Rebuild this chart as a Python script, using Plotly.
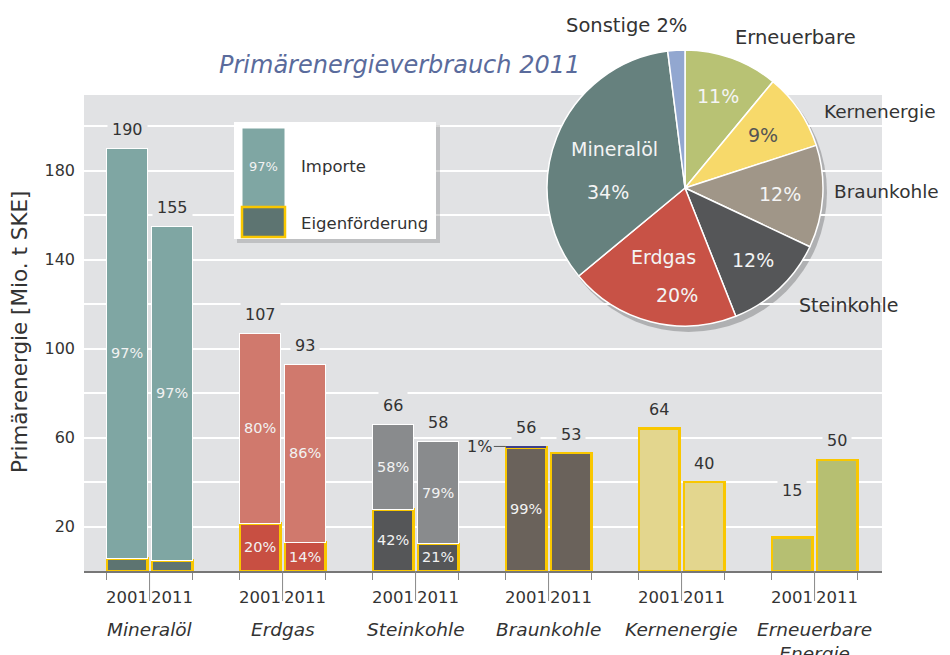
import math
import plotly.graph_objects as go

# ---------------- data ----------------
categories = ["Mineralöl", "Erdgas", "Steinkohle", "Braunkohle", "Kernenergie", "Erneuerbare<br>Energie"]
years = ["2001", "2011"]
totals_2001 = [190, 107, 66, 56, 64, 15]
totals_2011 = [155, 93, 58, 53, 40, 50]
import_pct_2001 = [97, 80, 58, 1, 0, 0]
import_pct_2011 = [97, 86, 79, 0, 0, 0]
import_labels_2001 = ["97%", "80%", "58%", "", "", ""]
import_labels_2011 = ["97%", "86%", "79%", "", "", ""]
eigen_labels_2001 = ["", "20%", "42%", "99%", "", ""]
eigen_labels_2011 = ["", "14%", "21%", "", "", ""]

pie_labels = ["Erneuerbare", "Kernenergie", "Braunkohle", "Steinkohle", "Erdgas", "Mineralöl", "Sonstige"]
pie_values = [11, 9, 12, 12, 20, 34, 2]

# ---------------- styles ----------------
FONT = "DejaVu Sans, Verdana, sans-serif"
BG = "#e1e2e4"
YELLOW = "#f9c700"
import_colors = ["#7fa6a3", "#d0796d", "#898b8d", "#3b3f8c", "#e3d68e", "#b6bf72"]
eigen_colors = ["#5d7471", "#c84f42", "#555658", "#6a625b", "#e3d68e", "#b6bf72"]
pie_colors = ["#b8c274", "#f7d96a", "#a09688", "#555658", "#c85246", "#66817e", "#92a7d0"]

offsets = [-0.176, 0.162]
bar_w = 0.305

# page body has an 8px margin -> figure shifted by 8px
W, H = 942, 647
ML, MT = 76, 12
PW = 798
PH = 551
MR = W - ML - PW
MB = H - MT - PH
AXIS_REF = 571  # axis line y in reference pixels
LEFT_REF = 84   # plot left in reference pixels


def px_x(px):
    return (px - LEFT_REF) / PW


def px_y(py):
    return (AXIS_REF - py) / PH


# ---------------- build bars ----------------
xs, eig, imp, eig_txt, imp_txt = [], [], [], [], []
imp_col, eig_col, imp_lw = [], [], []
totals = [totals_2001, totals_2011]
ipct = [import_pct_2001, import_pct_2011]
ilab = [import_labels_2001, import_labels_2011]
elab = [eigen_labels_2001, eigen_labels_2011]
for i in range(len(categories)):
    for j in range(2):
        t = totals[j][i]
        p = ipct[j][i]
        xs.append(i + offsets[j])
        iv = t * p / 100.0
        eig.append(t - iv)
        imp.append(iv if iv > 0 else None)
        eig_txt.append(elab[j][i])
        imp_txt.append(ilab[j][i])
        imp_col.append(import_colors[i])
        eig_col.append(eigen_colors[i])
        imp_lw.append(1 if p > 2 else 0)

fig = go.Figure()
fig.add_trace(go.Bar(
    x=xs, y=eig, width=bar_w, name="Eigenförderung",
    marker=dict(color=eig_col, line=dict(color=YELLOW, width=2.5)),
    text=eig_txt, textposition="inside", insidetextanchor="middle",
    constraintext="none", textangle=0,
    textfont=dict(family=FONT, size=14.5, color="#f2f2f2"),
    showlegend=False, hoverinfo="skip",
))
fig.add_trace(go.Bar(
    x=xs, y=imp, width=bar_w, name="Importe",
    marker=dict(color=imp_col, line=dict(color="white", width=imp_lw)),
    text=imp_txt, textposition="inside", insidetextanchor="middle",
    constraintext="none", textangle=0,
    textfont=dict(family=FONT, size=14.5, color="#f2f2f2"),
    showlegend=False, hoverinfo="skip",
))

# ---------------- pie ----------------
pie_cx, pie_cy, pie_r = 685, 188, 138
fig.add_trace(go.Pie(
    labels=pie_labels, values=pie_values, sort=False, direction="clockwise",
    rotation=0, textinfo="none", hoverinfo="skip", showlegend=False,
    marker=dict(colors=pie_colors, line=dict(color="white", width=1.5)),
    domain=dict(x=[px_x(pie_cx - pie_r), px_x(pie_cx + pie_r)],
                y=[px_y(pie_cy + pie_r), px_y(pie_cy - pie_r)]),
))

ann = []
shapes = []


def pann(x, y, text, size, color="#333333", xanchor="center", **kw):
    font = dict(family=FONT, size=size, color=color)
    if "style" in kw:
        font["style"] = kw.pop("style")
    d = dict(x=px_x(x), y=px_y(y), xref="paper", yref="paper", text=text,
             showarrow=False, xanchor=xanchor, yanchor="middle", font=font)
    d.update(kw)
    return d


# total labels above bars
for i in range(len(categories)):
    for j in range(2):
        t = totals[j][i]
        lift = 47 if t < 20 else 19
        ann.append(dict(x=i + offsets[j], y=t, xref="x", yref="y", text=str(t),
                        showarrow=False, yshift=lift, yanchor="middle", xanchor="center",
                        bgcolor=BG, borderpad=4,
                        font=dict(family=FONT, size=16, color="#333333")))

# 1% marker for Braunkohle 2001
bi = categories.index("Braunkohle")
ann.append(dict(x=bi + offsets[0] - bar_w / 2, y=totals_2001[bi], xref="x", yref="y",
                text="1%", showarrow=True, arrowhead=0, arrowwidth=1, arrowcolor="#555",
                ax=-12, ay=0, xanchor="right",
                font=dict(family=FONT, size=16, color="#333333")))

# x-axis labels
for i, c in enumerate(categories):
    for j in range(2):
        ann.append(dict(x=i + offsets[j], y=px_y(597), xref="x", yref="paper",
                        text=years[j], showarrow=False, yanchor="middle", xanchor="center",
                        font=dict(family=FONT, size=16.5, color="#333333")))
    xm = i + (offsets[0] + offsets[1]) / 2
    ann.append(dict(x=xm, y=px_y(617), xref="x", yref="paper",
                    text=c, showarrow=False, yanchor="top", xanchor="center",
                    font=dict(family=FONT, size=18.5, color="#333333", style="italic")))
    shapes.append(dict(type="line", xref="x", yref="paper", x0=xm, x1=xm,
                       y0=0, y1=px_y(601), line=dict(color="#888", width=1)))

# title
ann.append(pann(399, 65, "Primärenergieverbrauch 2011", 24, "#5a6b9c", style="italic"))

# y axis title
ann.append(pann(19, 332, "Primärenergie [Mio. t SKE]", 21.5, textangle=-90))

# legend box
shapes += [
    dict(type="rect", xref="paper", yref="paper", layer="above",
         x0=px_x(237), x1=px_x(440), y0=px_y(243), y1=px_y(125),
         fillcolor="rgba(0,0,0,0.15)", line=dict(width=0)),
    dict(type="rect", xref="paper", yref="paper", layer="above",
         x0=px_x(234), x1=px_x(436), y0=px_y(239), y1=px_y(122),
         fillcolor="white", line=dict(width=0)),
    dict(type="rect", xref="paper", yref="paper", layer="above",
         x0=px_x(242), x1=px_x(285), y0=px_y(207), y1=px_y(128),
         fillcolor=import_colors[0], line=dict(color="white", width=1)),
    dict(type="rect", xref="paper", yref="paper", layer="above",
         x0=px_x(242), x1=px_x(285), y0=px_y(237), y1=px_y(207),
         fillcolor=eigen_colors[0], line=dict(color=YELLOW, width=2.5)),
]
ann += [
    pann(263.5, 167, "97%", 13, "#f2f2f2"),
    pann(299, 167, "Importe", 16.5, xanchor="left"),
    pann(299, 223, "Eigenförderung", 16.5, xanchor="left"),
]

# pie shadow
shapes.append(dict(type="circle", xref="paper", yref="paper", layer="below",
                   x0=px_x(pie_cx - pie_r + 3), x1=px_x(pie_cx + pie_r + 4),
                   y0=px_y(pie_cy + pie_r + 6), y1=px_y(pie_cy - pie_r + 3),
                   fillcolor="rgba(0,0,0,0.22)", line=dict(width=0)))

# pie inner labels (placed along slice mid angles)
total_pie = sum(pie_values)
cum = 0
mids = []
for v in pie_values:
    mids.append((cum + v / 2) / total_pie * 2 * math.pi)
    cum += v
rfrac = [0.71, 0.68, 0.69, 0.72, 0.64, 0.55, 0]
inner = [
    [("11%", "#f4f4f4", 0, 0)],
    [("9%", "#555555", 0, 0)],
    [("12%", "#f4f4f4", 0, 0)],
    [("12%", "#f4f4f4", 0, 0)],
    [("Erdgas", "#f4f4f4", 0, 17), ("20%", "#f4f4f4", 14, -21)],
    [("Mineralöl", "#f4f4f4", 0, 11), ("34%", "#f4f4f4", -6, -32)],
    [],
]
for idx, items in enumerate(inner):
    r = rfrac[idx] * pie_r
    bx = pie_cx + r * math.sin(mids[idx])
    by = pie_cy - r * math.cos(mids[idx])
    for (txt, col, xs_, ys_) in items:
        ann.append(pann(bx, by, txt, 19, col, xshift=xs_, yshift=ys_))

# pie outside labels
outside = [("Sonstige 2%", 626, 25, "center", 19.5), ("Erneuerbare", 795, 37, "center", 19.5),
           ("Kernenergie", 938, 112, "right", 18.5), ("Braunkohle", 941, 192, "right", 18.5),
           ("Steinkohle", 848, 305, "center", 19)]
for txt, x_, y_, anc, sz in outside:
    ann.append(pann(x_, y_, txt, sz, xanchor=anc))

edges = []
for i in range(len(categories)):
    edges += [i + offsets[0] - bar_w / 2, i + offsets[1] + bar_w / 2]

fig.update_layout(
    width=W, height=H, barmode="stack",
    margin=dict(l=ML, r=MR, t=MT, b=MB),
    paper_bgcolor="white", plot_bgcolor=BG,
    font=dict(family=FONT, color="#333333"),
    annotations=ann, shapes=shapes, showlegend=False,
    xaxis=dict(range=[-0.5, len(categories) - 0.5], domain=[0, 1],
               showgrid=False, zeroline=False, showline=True, linecolor="#777777", linewidth=2,
               tickvals=edges, ticks="outside", ticklen=7, tickcolor="#888888",
               showticklabels=False, fixedrange=True),
    yaxis=dict(range=[0, 214], domain=[0, (AXIS_REF - 95) / PH],
               tickvals=[20, 40, 60, 80, 100, 120, 140, 160, 180, 200],
               ticktext=["20", "", "60", "", "100", "", "140", "", "180", ""],
               showgrid=True, gridcolor="white", gridwidth=1.5, zeroline=False,
               ticks="", ticklabelstandoff=8,
               tickfont=dict(family=FONT, size=16, color="#333333"), fixedrange=True),
)

fig.write_html("out.html")
